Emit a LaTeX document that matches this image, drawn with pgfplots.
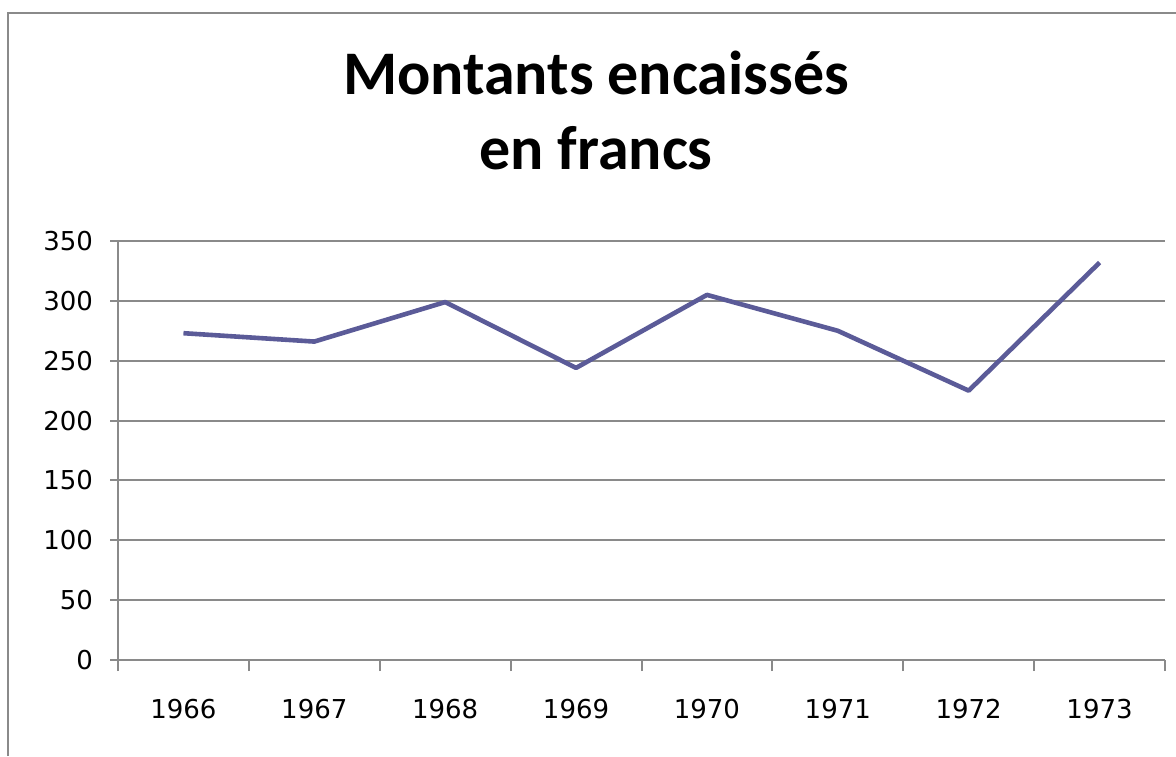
\documentclass[border=0pt]{standalone}
\usepackage{pgfplots}
\pgfplotsset{compat=1.18}
\usepackage{fontspec}
\setmainfont{DejaVu Sans}
\newfontfamily\titlefont{Carlito}
\definecolor{linec}{HTML}{5B5B98}
\definecolor{gridc}{HTML}{8A8A8A}
\begin{document}
\begin{tikzpicture}[x=0.5pt,y=0.5pt]
\path[use as bounding box] (0,0) rectangle (1176,756);
\draw[gridc, line width=1pt] (8,0) -- (8,743) -- (1176,743);
\node[anchor=base, font=\titlefont\bfseries\fontsize{31}{37}\selectfont] at (596,661) {Montants encaissés};
\node[anchor=base, font=\titlefont\bfseries\fontsize{31}{37}\selectfont] at (596,586) {en francs};
\coordinate (ax) at (118,96);
\begin{axis}[
  at={(ax)}, anchor=south west,
  scale only axis, width=523.5pt, height=209.5pt,
  xmin=0.5, xmax=8.5, ymin=0, ymax=350,
  axis lines*=left,
  axis line style={gridc, line width=1pt},
  xtick={1,...,8},
  xticklabels={1966,1967,1968,1969,1970,1971,1972,1973},
  major x tick style={draw=none},
  minor xtick={0.5,1.5,...,8.5},
  minor x tick style={gridc, line width=1pt},
  minor tick length=5.5pt,
  ytick={0,50,...,350},
  y tick style={gridc, line width=1pt},
  major tick length=4pt,
  tick align=outside,
  ymajorgrids,
  major y grid style={gridc, line width=1pt},
  /pgf/number format/assume math mode=true,
  tick label style={font=\fontsize{13}{15}\selectfont, text=black},
  xticklabel style={yshift=-12pt},
  yticklabel style={xshift=-5pt},
  clip=false,
]
\addplot[linec, line width=2.3pt, line join=round] coordinates {
 (1,273) (2,266) (3,299) (4,244) (5,305) (6,275) (7,225) (8,332)
};
\end{axis}
\end{tikzpicture}
\end{document}
